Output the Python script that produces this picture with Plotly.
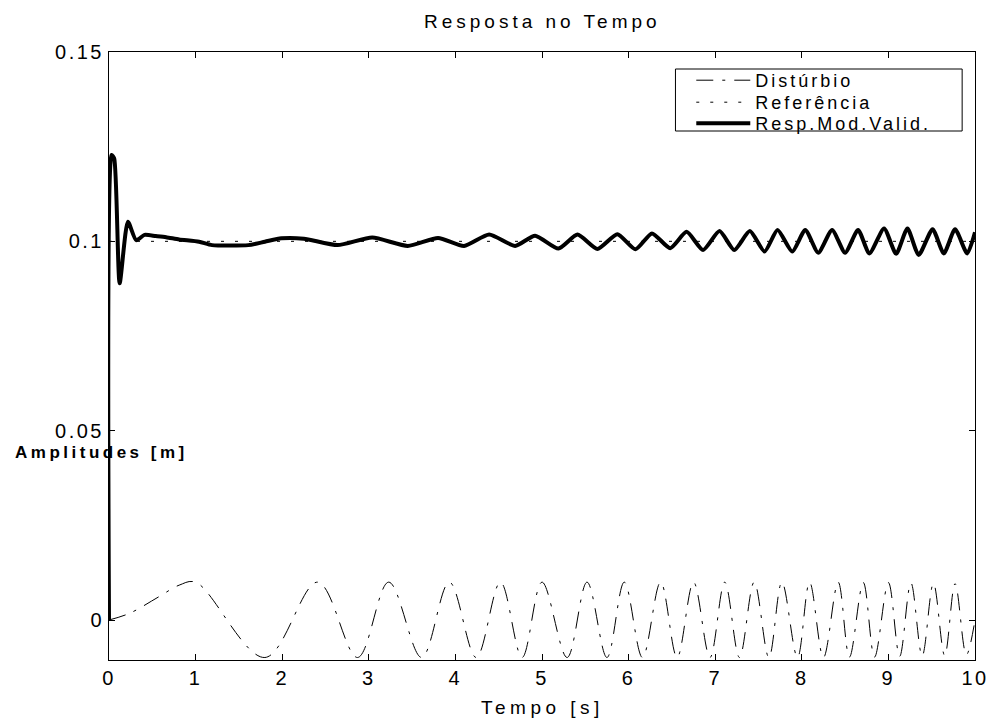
import plotly.graph_objects as go

# ---------------- data ----------------
# Disturbance (chirp-like): start, early rise, then extrema
dist_t = [0.0, 0.24, 0.58, 0.81, 1.00, 1.80, 2.41, 2.87, 3.23, 3.61, 3.93, 4.24,
          4.52, 4.77, 5.00, 5.29, 5.52, 5.75, 5.95, 6.16, 6.37, 6.56, 6.75, 6.94,
          7.11, 7.28, 7.45, 7.62, 7.77, 7.95, 8.09, 8.25, 8.42, 8.55, 8.71, 8.84,
          9.00, 9.13, 9.26, 9.39, 9.52, 9.65, 9.77, 9.90, 10.0]
dist_v = [0.0, 0.0018, 0.0062, 0.0092, 0.0100, -0.0099, 0.0100, -0.0099, 0.0100,
          -0.0099, 0.0100, -0.0099, 0.0100, -0.0099, 0.0100, -0.0099, 0.0100,
          -0.0099, 0.0100, -0.0099, 0.0100, -0.0099, 0.0100, -0.0099, 0.0100,
          -0.0099, 0.0100, -0.0099, 0.0100, -0.0099, 0.0100, -0.0099, 0.0100,
          -0.0098, 0.0099, -0.0098, 0.0099, -0.0096, 0.0098, -0.0095, 0.0097,
          -0.0094, 0.0096, -0.0092, 0.0]

# Reference (set point)
ref_t = [0.0, 10.0]
ref_v = [0.1, 0.1]

# Response of the validated model
resp_t = [0.0, 0.03, 0.06, 0.123, 0.218, 0.314, 0.41, 0.54, 0.66, 0.81, 1.04,
          1.19, 1.61, 1.80, 1.99, 2.25, 2.64, 3.04, 3.45, 3.80, 4.10, 4.39,
          4.69, 4.92, 5.19, 5.41, 5.64, 5.87, 6.08, 6.27, 6.48, 6.67, 6.86,
          7.05, 7.22, 7.40, 7.57, 7.72, 7.89, 8.04, 8.19, 8.35, 8.50, 8.65,
          8.78, 8.95, 9.09, 9.22, 9.35, 9.51, 9.64, 9.77, 9.91, 10.0]
resp_v = [0.0, 0.1228, 0.1219, 0.0889, 0.1052, 0.1003, 0.1017, 0.1014, 0.1011,
          0.1005, 0.0999, 0.0990, 0.0990, 0.0999, 0.1008, 0.1007, 0.0990, 0.1010,
          0.0988, 0.1009, 0.0988, 0.1018, 0.0988, 0.1015, 0.0981, 0.1018, 0.0980,
          0.1019, 0.0979, 0.1021, 0.0982, 0.1025, 0.0977, 0.1027, 0.0977, 0.1027,
          0.0973, 0.1030, 0.0973, 0.1030, 0.0970, 0.1030, 0.0970, 0.1030, 0.0968,
          0.1034, 0.0967, 0.1034, 0.0964, 0.1032, 0.0968, 0.1032, 0.0968, 0.1024]

series_names = ["Distúrbio", "Referência", "Resp.Mod.Valid."]

x_ticks = [0, 1, 2, 3, 4, 5, 6, 7, 8, 9, 10]
x_tick_labels = ["0", "1", "2", "3", "4", "5", "6", "7", "8", "9", "10"]
y_ticks = [0, 0.05, 0.1, 0.15]
y_tick_labels = ["0", "0.05", "0.1", "0.15"]

title_text = "Resposta no Tempo"
xlabel_text = "Tempo [s]"
ylabel_text = "Amplitudes [m]"

# ---------------- styling helpers ----------------
FONT = "Liberation Sans, Arial, sans-serif"
W, H = 1001, 725
L, R, T, B = 109, 16, 52, 65


def spaced(text, px):
    return '<span style="letter-spacing:%spx">%s</span>' % (px, text)


def px_x(x):
    return (x - L) / (W - L - R)


def px_y(y):
    return 1 - (y - T) / (H - T - B)


fig = go.Figure()
fig.add_trace(go.Scatter(
    x=dist_t, y=dist_v, mode="lines", name=spaced(series_names[0], 3), legend="legend",
    line=dict(color="black", width=1, dash="17px,9px,3px,9px", shape="spline", smoothing=1.0),
))
fig.add_trace(go.Scatter(
    x=ref_t, y=ref_v, mode="lines", name=spaced(series_names[1], 3), legend="legend2",
    line=dict(color="black", width=1, dash="3px,11px"),
))
fig.add_trace(go.Scatter(
    x=resp_t, y=resp_v, mode="lines", name=spaced(series_names[2], 3), legend="legend3",
    line=dict(color="black", width=4, shape="spline", smoothing=0.6),
))

legend_common = dict(
    xanchor="left", yanchor="top",
    bgcolor="rgba(0,0,0,0)", borderwidth=0,
    font=dict(family=FONT, size=18, color="black"),
    itemwidth=54,
)
LEG_X = px_x(698)

fig.update_layout(
    width=W, height=H,
    margin=dict(l=L, r=R, t=T, b=B, pad=0),
    paper_bgcolor="white", plot_bgcolor="white",
    font=dict(family=FONT, color="black", size=18),
    showlegend=True,
    legend=dict(x=LEG_X, y=px_y(62), **legend_common),
    legend2=dict(x=LEG_X, y=px_y(84), **legend_common),
    legend3=dict(x=LEG_X, y=px_y(105), **legend_common),
    shapes=[dict(
        type="rect", xref="paper", yref="paper",
        x0=px_x(682), x1=px_x(972), y0=px_y(131), y1=px_y(69),
        line=dict(color="black", width=1), fillcolor="white", layer="above",
    )],
    annotations=[
        dict(text=spaced(title_text, 4), x=0.5, y=px_y(22), xref="paper", yref="paper",
             xanchor="center", yanchor="middle", showarrow=False,
             font=dict(family=FONT, size=19, color="black")),
        dict(text=spaced(xlabel_text, 4.5), x=0.5, y=px_y(707), xref="paper", yref="paper",
             xanchor="center", yanchor="middle", showarrow=False,
             font=dict(family=FONT, size=19, color="black")),
        dict(text="<b>" + spaced(ylabel_text, 3.5) + "</b>", x=px_x(12), y=px_y(452),
             xref="paper", yref="paper", xanchor="left", yanchor="middle", showarrow=False,
             font=dict(family=FONT, size=17, color="black")),
    ],
)

fig.update_xaxes(
    range=[0, 10], tickvals=x_ticks, ticktext=[spaced(t, 2.5) for t in x_tick_labels],
    ticks="inside", ticklen=6, tickwidth=1, tickcolor="black",
    showline=True, linecolor="black", linewidth=1, mirror="ticks",
    showgrid=False, zeroline=False,
    tickfont=dict(family=FONT, size=20, color="black"),
)
fig.update_yaxes(
    range=[-0.01056, 0.15], tickvals=y_ticks, ticktext=[spaced(t, 2.5) for t in y_tick_labels],
    ticks="inside", ticklen=6, tickwidth=1, tickcolor="black",
    showline=True, linecolor="black", linewidth=1, mirror="ticks",
    showgrid=False, zeroline=False,
    tickfont=dict(family=FONT, size=20, color="black"),
)

fig.write_html("out.html")
